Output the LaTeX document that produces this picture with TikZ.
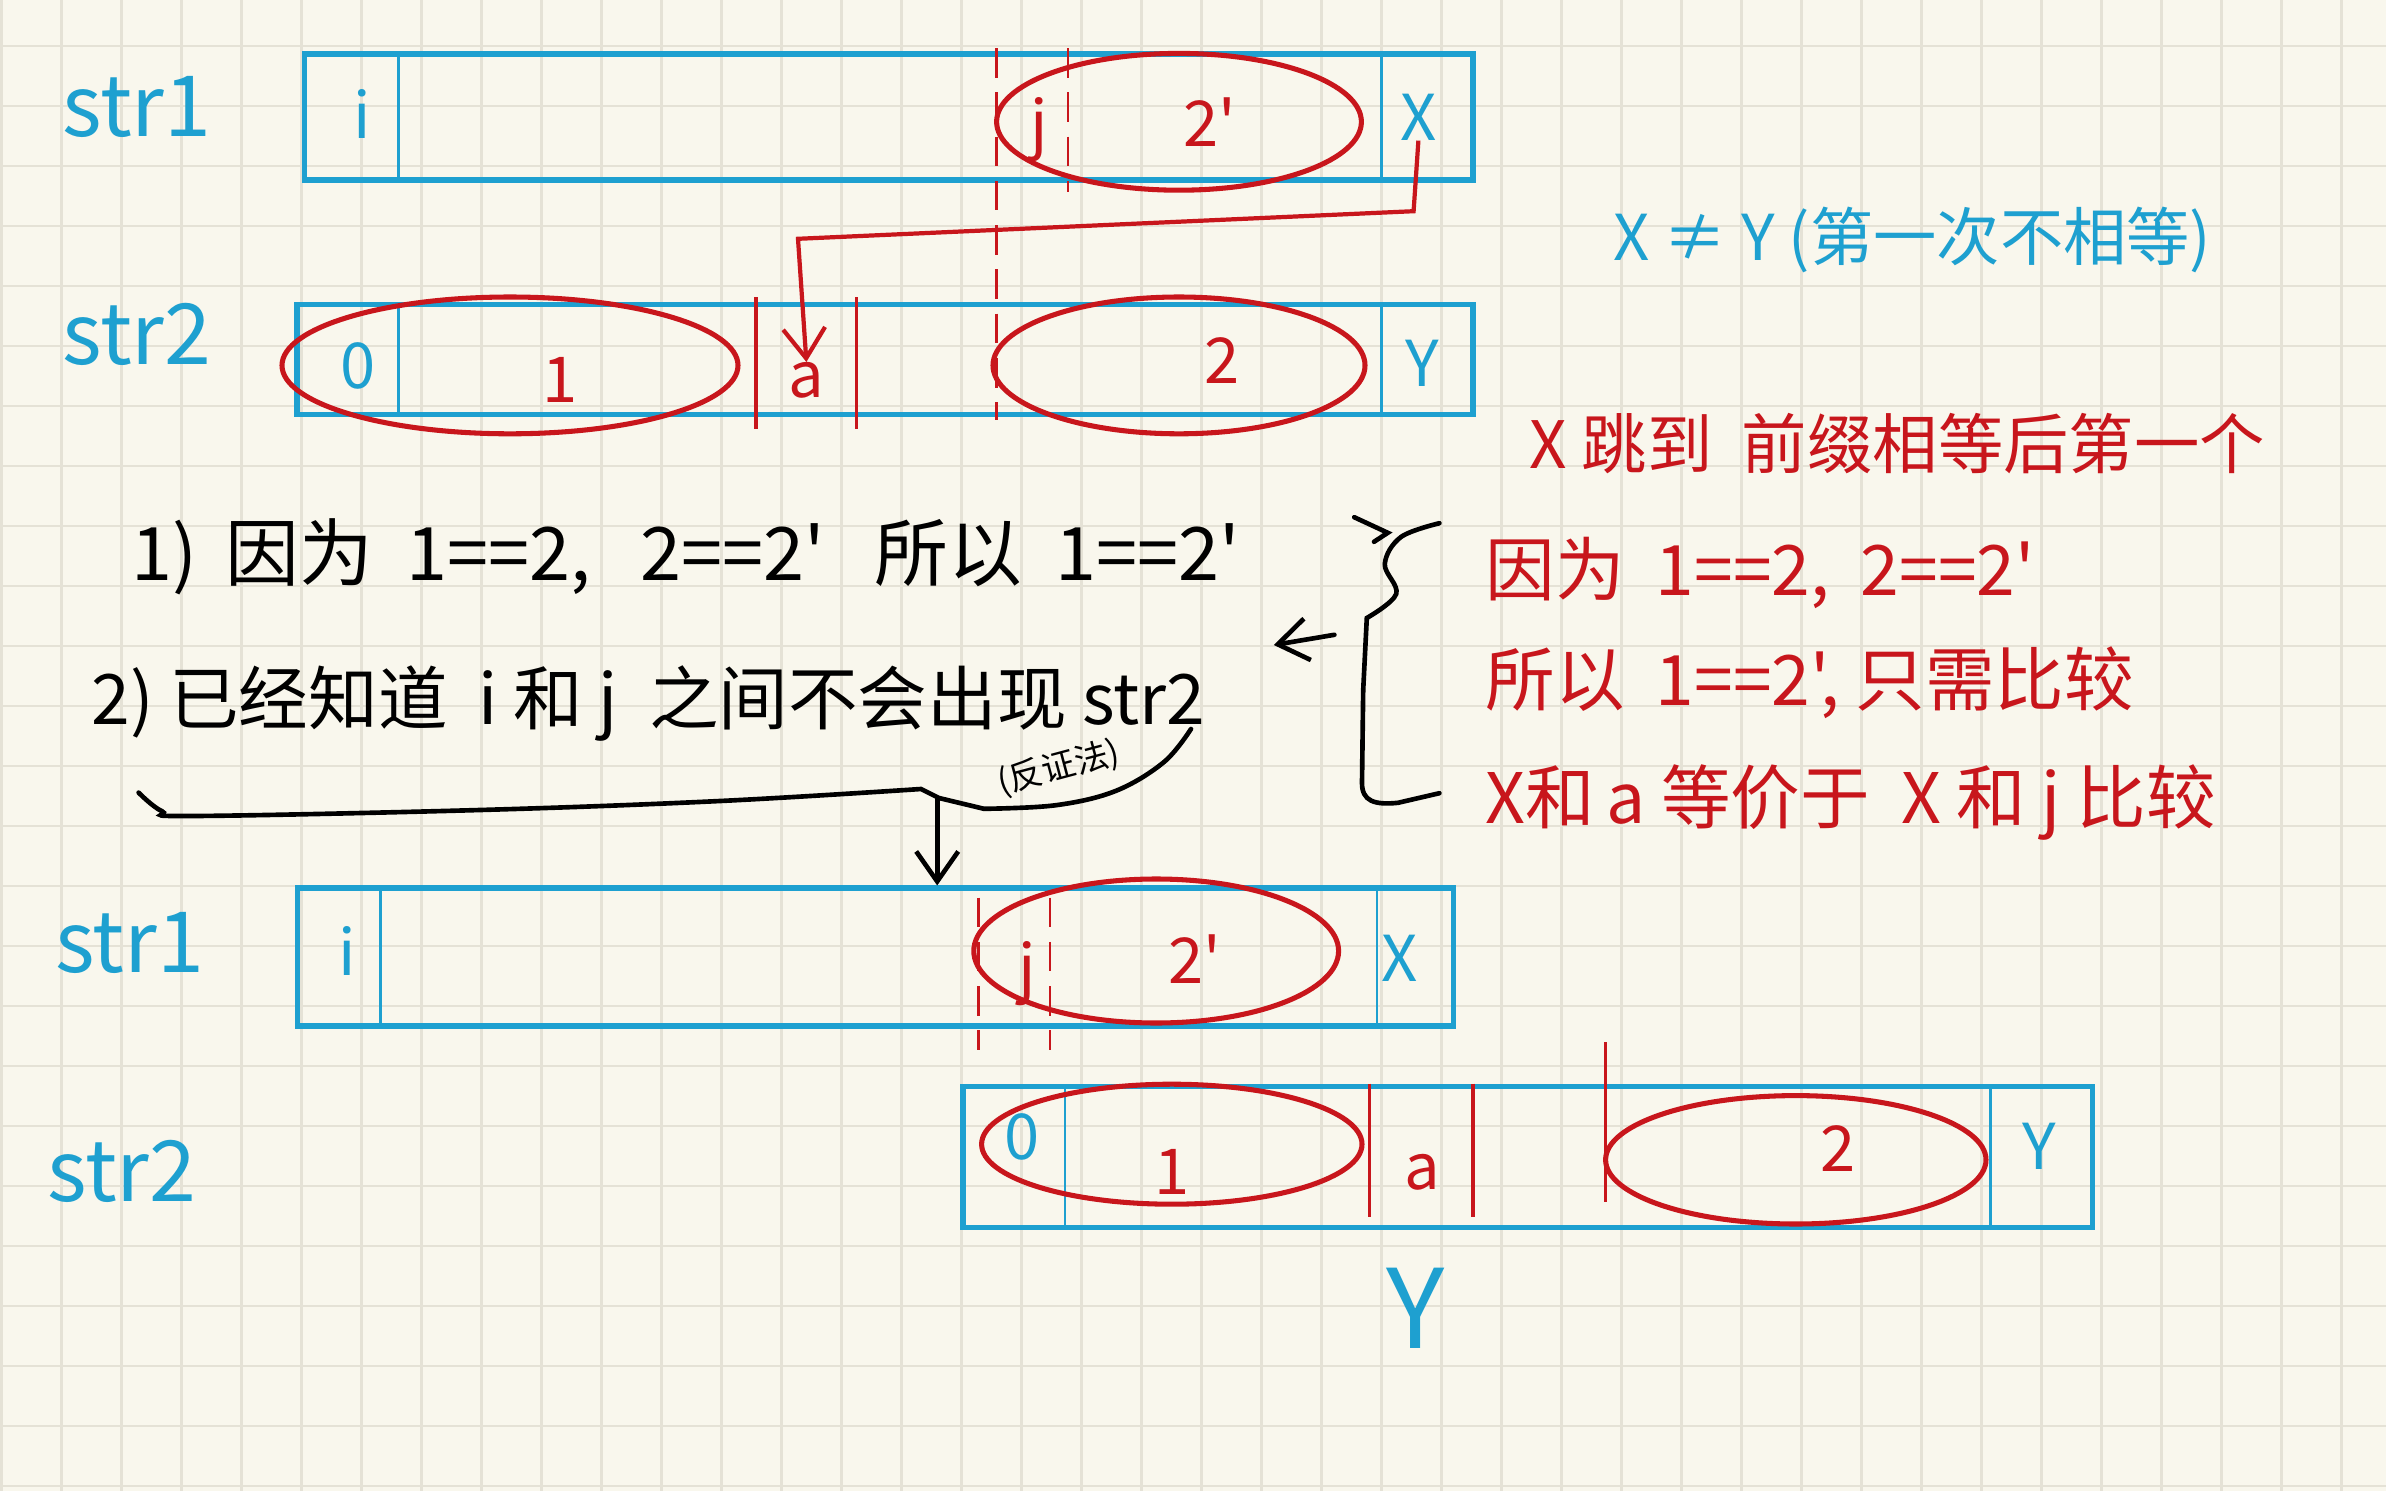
\documentclass[tikz,border=0pt]{standalone}
\usepackage{fontspec}
\newfontfamily\cjk{Noto Sans CJK SC}
\usetikzlibrary{arrows.meta,shapes.geometric}
\definecolor{paper}{RGB}{249,247,237}
\definecolor{gridc}{RGB}{229,226,214}
\definecolor{pblue}{RGB}{30,160,208}
\definecolor{pred}{RGB}{200,22,28}

\begin{document}
\begin{tikzpicture}[x=1cm, y=-1cm, >={Straight Barb[length=5mm,width=7mm]},
  gridline/.style={gridc, line width=1.2pt},
  strbox/.style={draw=pblue, line width=2.4pt, rectangle, inner sep=0pt},
  cell/.style={pblue, line width=1.4pt},
  rcell/.style={pred, line width=1.6pt},
  rdash/.style={pred, line width=1.2pt, dash pattern=on 14pt off 7pt},
  hl/.style={draw=pred, line width=2.4pt, ellipse, inner sep=0pt},
  pen/.style={black, line width=2.2pt, line cap=round},
  strlbl/.style={font=\cjk\fontsize{40}{44}\selectfont, text=pblue},
  bt/.style={font=\cjk\fontsize{30}{32}\selectfont, text=pblue, inner sep=0pt},
  rt/.style={font=\cjk\fontsize{30}{32}\selectfont, text=pred, inner sep=0pt},
  note/.style={font=\cjk\fontsize{#1}{#1}\selectfont, anchor=west, inner sep=0pt}]
\useasboundingbox (0,0) rectangle (39.767,24.85);
\fill[paper] (0,0) rectangle (39.767,24.85);
\foreach \k in {0,...,39}
    \draw[gridline] ({0.028+\k},0) -- ({0.028+\k},24.85);
\foreach \k in {0,...,24}
    \draw[gridline] (0,{0.767+\k}) -- (39.767,{0.767+\k});

% str1 / str2, first attempt
\node[strlbl] (l1) at (2.28,1.78) {str1};
\node[strlbl] (l2) at (2.28,5.58) {str2};
\node[strbox, minimum width=19.48cm, minimum height=2.1cm] (s1) at (14.81,1.95) {};
\node[strbox, minimum width=19.6cm, minimum height=1.83cm] (s2) at (14.75,5.99) {};
\draw[cell] (6.64,0.9) -- (6.64,3.0);
\draw[cell] (23.03,0.9) -- (23.03,3.0);
\draw[rdash] (16.61,0.8) -- (16.61,7.0);
\draw[rdash] (17.80,0.8) -- (17.80,3.2);
\node[hl, minimum width=6.08cm, minimum height=2.28cm] (h1) at (19.65,2.03) {};
\node[bt] (i1) at (6.04,1.9) {i};
\node[rt] (j1) at (17.32,2.16) {j};
\node[rt] (p1) at (20.16,2.03) {2'};
\node[bt] (x1) at (23.64,1.95) {X};

\draw[cell] (6.64,5.07) -- (6.64,6.9);
\draw[cell] (23.03,5.07) -- (23.03,6.9);
\draw[rcell] (12.6,4.95) -- (12.6,7.15);
\draw[rcell] (14.28,4.95) -- (14.28,7.15);
\node[hl, minimum width=7.6cm, minimum height=2.28cm] (h2) at (8.5,6.09) {};
\node[hl, minimum width=6.2cm, minimum height=2.28cm] (h3) at (19.65,6.09) {};
\node[bt] (z2) at (5.96,6.1) {0};
\node[rt] (o2) at (9.33,6.34) {1};
\node[rt] (a2) at (13.44,6.34) {a};
\node[rt] (t2) at (20.37,6.01) {2};
\node[bt] (y2) at (23.71,6.05) {Y};
\draw[pred, line width=2pt, ->] (x1.south) -- (23.56,3.52) -- (13.3,3.98) -- (a2.north);

% reasoning
\node[note=35] (r1) at (2.18,9.28) {1)\, 因为\ \ 1==2,\ \ \ 2==2'\ \ \ 所以\ \ 1==2'};
\node[note=33] (r2) at (1.52,11.72) {2)\ 已经知道\ \ i\ 和\ j\ \ 之间不会出现\ str2};
\node[font=\cjk\fontsize{16}{16}\selectfont, inner sep=0pt, rotate=15] (r3) at (17.65,12.8) {(反证法)};
\draw[pen] plot[smooth, tension=.6] coordinates {(2.31,13.21) (2.7,13.52) (3.2,13.6) (8,13.5) (12,13.35) (15.35,13.15)}
    -- (15.65,13.3) -- plot[smooth, tension=.6] coordinates {(16.4,13.48) (17.6,13.42) (18.6,13.18) (19.4,12.7) (19.85,12.15)};
\coordinate (tip) at (15.62,13.3);

% str1 / str2, after the jump
\node[strlbl] (l3) at (2.16,15.72) {str1};
\node[strlbl] (l4) at (2.03,19.53) {str2};
\node[strbox, minimum width=19.27cm, minimum height=2.3cm] (s3) at (14.59,15.95) {};
\node[strbox, minimum width=18.82cm, minimum height=2.35cm] (s4) at (25.46,19.28) {};
\draw[pen, ->] (tip) -- (tip |- s3.north);
\draw[cell] (6.34,14.8) -- (6.34,17.1);
\draw[cell] (22.95,14.8) -- (22.95,17.1);
\draw[rdash] (16.31,14.96) -- (16.31,17.5);
\draw[rdash] (17.5,14.96) -- (17.5,17.5);
\node[hl, minimum width=6.08cm, minimum height=2.4cm] (h4) at (19.27,15.85) {};
\node[bt] (i3) at (5.78,15.85) {i};
\node[rt] (j3) at (17.12,16.23) {j};
\node[rt] (p3) at (19.91,15.98) {2'};
\node[bt] (x3) at (23.33,15.98) {X};

\draw[cell] (17.75,18.1) -- (17.75,20.45);
\draw[cell] (33.17,18.1) -- (33.17,20.45);
\draw[rcell] (22.83,18.06) -- (22.83,20.29);
\draw[rcell] (24.55,18.06) -- (24.55,20.29);
\draw[rcell] (26.76,17.37) -- (26.76,20.04);
\node[hl, minimum width=6.34cm, minimum height=2.0cm] (h5) at (19.53,19.07) {};
\node[hl, minimum width=6.34cm, minimum height=2.14cm] (h6) at (29.93,19.33) {};
\node[bt] (z4) at (17.04,18.95) {0};
\node[rt] (o4) at (19.53,19.53) {1};
\node[rt] (a4) at (23.71,19.53) {a};
\node[rt] (t4) at (30.64,19.15) {2};
\node[bt] (y4) at (33.98,19.1) {Y};
\node[bt, font=\cjk\fontsize{52}{52}\selectfont] (yb) at (23.59,21.8) {Y};

% right side notes
\node[note=30, text=pblue] (n1) at (26.88,4.0) {X ≠ Y (第一次不相等)};
\node[note=31, text=pred] (n2) at (25.49,7.39) {X\ 跳到\ \ 前缀相等后第一个};
\node[note=33, text=pred] (n3) at (24.75,9.55) {因为\ \ 1==2,\ \ 2==2'};
\node[note=33, text=pred] (n4) at (24.75,11.38) {所以\ \ 1==2',\ 只需比较};
\node[note=33, text=pred] (n5) at (24.75,13.38) {X和\,a\ 等价于\ \ X\ 和\ j\ 比较};
\draw[pen] plot[smooth, tension=.6] coordinates {(23.99,8.72) (23.35,8.95) (23.08,9.4) (23.27,9.9) (22.78,10.3)}
    -- (22.72,11.5) -- (22.7,13.05) .. controls (22.7,13.35) and (22.9,13.42) .. (23.3,13.38) -- (23.99,13.22);
\draw[pen] (22.57,8.62) -- (23.13,8.88) -- (22.9,9.03);
\coordinate (bm) at (22.24,10.58);
\coordinate (bl) at (21.23,10.75);
\draw[pen, ->] (bm) -- (bl);
\end{tikzpicture}
\end{document}
